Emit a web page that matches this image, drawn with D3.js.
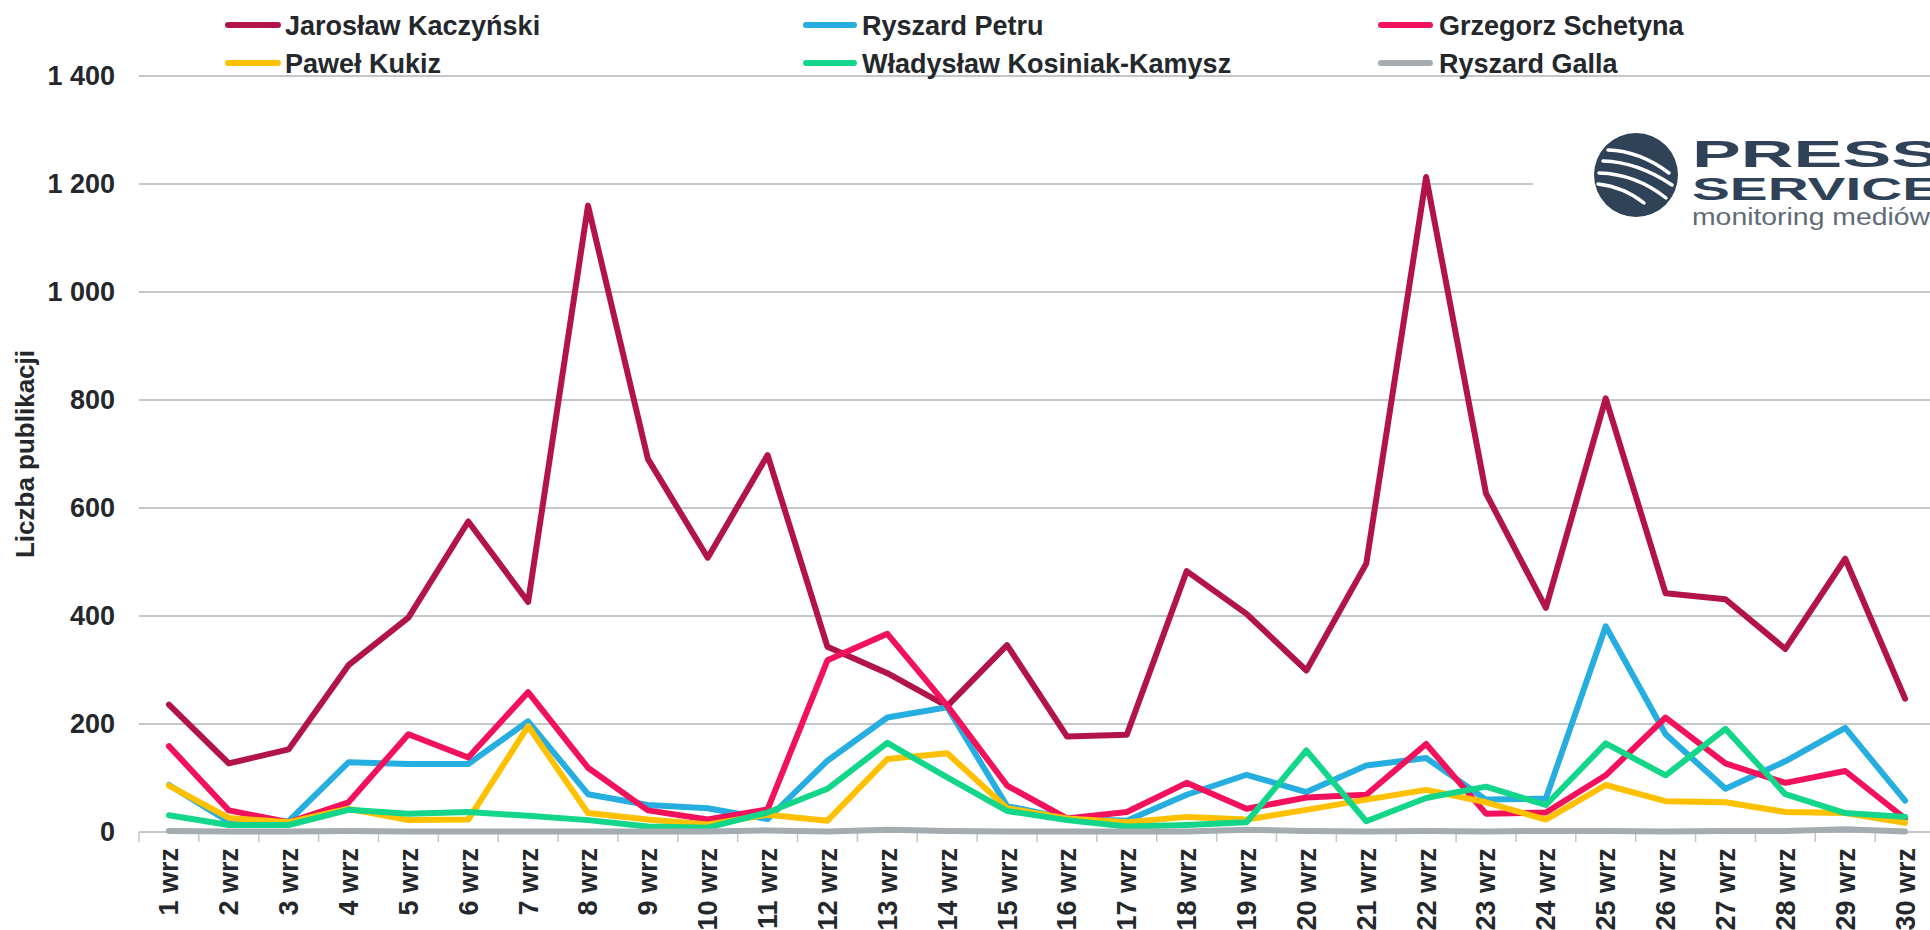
<!DOCTYPE html>
<html>
<head>
<meta charset="utf-8">
<script src="https://cdn.jsdelivr.net/npm/d3@7/dist/d3.min.js"></script>
<style>
  html, body { margin: 0; padding: 0; background: #fff; }
  svg { display: block; }
  text { font-family: "Liberation Sans", Arial, sans-serif; }
</style>
</head>
<body>
<script>
const days = ["1 wrz","2 wrz","3 wrz","4 wrz","5 wrz","6 wrz","7 wrz","8 wrz","9 wrz","10 wrz",
  "11 wrz","12 wrz","13 wrz","14 wrz","15 wrz","16 wrz","17 wrz","18 wrz","19 wrz","20 wrz",
  "21 wrz","22 wrz","23 wrz","24 wrz","25 wrz","26 wrz","27 wrz","28 wrz","29 wrz","30 wrz"];

const seriesNames = ["Jarosław Kaczyński","Ryszard Petru","Grzegorz Schetyna","Paweł Kukiz","Władysław Kosiniak-Kamysz","Ryszard Galla"];
const seriesColors = ["#b3134b","#27aee0","#f2125c","#ffc000","#14d68a","#a2acb1"];

const kaczynski = [236,127,153,309,397,575,426,1160,691,508,698,343,294,233,346,177,180,483,404,299,497,1213,627,415,803,442,431,339,506,247];
const petru     = [87,19,20,129,126,126,205,70,50,44,24,132,212,231,48,25,21,69,106,74,123,137,60,62,381,181,80,131,193,58];
const schetyna  = [159,40,18,55,181,138,259,119,40,23,42,318,367,234,86,25,37,91,43,64,69,163,34,36,105,212,127,91,113,25];
const kukiz     = [86,26,18,43,22,23,196,35,23,14,32,21,135,146,44,25,18,28,23,41,60,78,55,23,87,57,55,37,35,17];
const kosiniak  = [31,13,13,41,34,37,30,22,10,8,36,80,165,101,39,22,10,13,18,151,20,63,84,50,164,105,191,70,35,28];
const galla     = [2,1,1,2,1,1,1,1,1,1,3,1,4,2,1,1,1,1,4,2,1,2,1,2,2,1,2,2,5,1];

const yTicks = [0,200,400,600,800,1000,1200,1400];
const yTitle = "Liczba publikacji";

const allSeries = [kaczynski, petru, schetyna, kukiz, kosiniak, galla];

const W = 1930, H = 930;
const FS = 27;
const TXT = "#24272b";
const svg = d3.select("body").append("svg").attr("width", W).attr("height", H);
svg.append("rect").attr("width", W).attr("height", H).attr("fill", "#fff");

const x = d3.scaleBand().domain(days).range([139, 1935]).padding(0);
const y = d3.scaleLinear().domain([0, 1400]).range([832, 76]);
const cx = d => x(d) + x.bandwidth() / 2;

// gridlines
svg.append("g").selectAll("line").data(yTicks.filter(t => t > 0)).join("line")
  .attr("x1", 139).attr("x2", W).attr("y1", d => y(d)).attr("y2", d => y(d))
  .attr("stroke", "#c3c7c9").attr("stroke-width", 2);

// y axis labels
const fmt = v => d3.format(",")(v).replace(/,/g, " ");
const yAxis = d3.axisLeft(y).tickValues(yTicks).tickFormat(fmt).tickSize(0).tickPadding(0);
const gy = svg.append("g").attr("transform", "translate(115,0)").call(yAxis);
gy.select(".domain").remove();
gy.selectAll("text").attr("font-size", FS).attr("font-weight", "bold").attr("fill", TXT)
  .attr("font-family", "'Liberation Sans', Arial, sans-serif");

// x axis
const xAxis = d3.axisBottom(x).tickSize(0).tickPadding(0);
const gx = svg.append("g").attr("transform", "translate(0,832)").call(xAxis);
gx.select(".domain").remove();
gx.selectAll(".tick line").remove();
gx.selectAll("text")
  .attr("font-size", FS).attr("font-weight", "bold").attr("fill", TXT)
  .attr("font-family", "'Liberation Sans', Arial, sans-serif")
  .attr("text-anchor", "end")
  .attr("transform", "translate(0,16) rotate(-90)")
  .attr("x", 0).attr("y", 0).attr("dy", "0.35em");
// axis baseline and boundary ticks
svg.append("line").attr("x1", 139).attr("x2", W).attr("y1", 832).attr("y2", 832)
  .attr("stroke", "#c3c7c9").attr("stroke-width", 2);
svg.append("g").selectAll("line").data(days).join("line")
  .attr("x1", d => x(d)).attr("x2", d => x(d)).attr("y1", 832).attr("y2", 842)
  .attr("stroke", "#c3c7c9").attr("stroke-width", 1.5);

// y title
svg.append("text").attr("transform", "translate(34,454) rotate(-90)")
  .attr("text-anchor", "middle").attr("font-size", 26).attr("font-weight", "bold")
  .attr("fill", TXT).text(yTitle);

// logo background
svg.append("rect").attr("x", 1533).attr("y", 122).attr("width", W - 1533).attr("height", 115).attr("fill", "#fff");

// lines
const line = d3.line().x((d, i) => cx(days[i])).y(d => y(d));
svg.append("g").selectAll("path").data(allSeries).join("path")
  .attr("d", d => line(d)).attr("fill", "none")
  .attr("stroke", (d, i) => seriesColors[i]).attr("stroke-width", 6)
  .attr("stroke-linejoin", "round").attr("stroke-linecap", "round");

// legend
const legCols = [[225, 281, 285], [803, 857, 862], [1378, 1433, 1439]];
const legRows = [25, 63];
const leg = svg.append("g");
seriesNames.forEach((name, i) => {
  const c = legCols[i % 3], r = legRows[Math.floor(i / 3)];
  leg.append("line").attr("x1", c[0] + 3).attr("x2", c[1] - 3).attr("y1", r).attr("y2", r)
    .attr("stroke", seriesColors[i]).attr("stroke-width", 6).attr("stroke-linecap", "round");
  leg.append("text").attr("x", c[2]).attr("y", r).attr("dy", "0.36em")
    .attr("font-size", FS).attr("font-weight", "bold").attr("fill", TXT).text(name);
});

// logo
const logo = svg.append("g");
const lc = [1636, 175];
logo.append("circle").attr("cx", lc[0]).attr("cy", lc[1]).attr("r", 42).attr("fill", "#2f4258");
const stripes = [
  [[-28,-25],[4,-24],[33,-2]],
  [[-33,-14],[2,-13],[36,10]],
  [[-37,-2],[0,-1],[30,23]],
  [[-38,9],[-12,12],[8,28]]
];
stripes.forEach(s => {
  logo.append("path")
    .attr("d", `M${lc[0]+s[0][0]},${lc[1]+s[0][1]} Q${lc[0]+s[1][0]},${lc[1]+s[1][1]} ${lc[0]+s[2][0]},${lc[1]+s[2][1]}`)
    .attr("fill", "none").attr("stroke", "#fff").attr("stroke-width", 3.5).attr("stroke-linecap", "round");
});
logo.append("text").attr("x", 1692).attr("y", 167).attr("font-size", 36).attr("font-weight", 900)
  .attr("font-family", "'DejaVu Sans', sans-serif").attr("fill", "#2f4258")
  .attr("textLength", 248).attr("lengthAdjust", "spacingAndGlyphs").text("PRESS");
logo.append("text").attr("x", 1692).attr("y", 200).attr("font-size", 31).attr("font-weight", 900)
  .attr("font-family", "'DejaVu Sans', sans-serif").attr("fill", "#2f4258")
  .attr("textLength", 248).attr("lengthAdjust", "spacingAndGlyphs").text("SERVICE");
logo.append("text").attr("x", 1692).attr("y", 225).attr("font-size", 23).attr("font-weight", 300)
  .attr("font-family", "'Open Sans', sans-serif").attr("fill", "#5f6b77")
  .attr("textLength", 238).attr("lengthAdjust", "spacingAndGlyphs").text("monitoring mediów");
</script>
</body>
</html>
